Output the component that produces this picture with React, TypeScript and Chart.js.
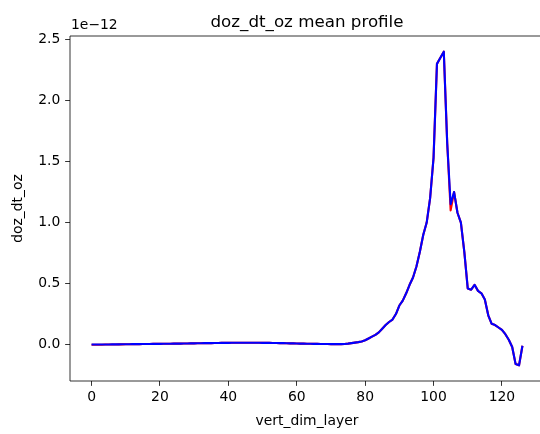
import { useEffect, useRef } from "react";
import { Chart, registerables } from "chart.js";

Chart.register(...registerables);

// vertical layer index 0..126
const layers: number[] = Array.from({ length: 127 }, (_, i) => i);

// values in units of 1e-12
const blueValues: number[] = [
  0.000, 0.000, 0.000, 0.001, 0.001, 0.001, 0.002, 0.002, 0.002, 0.003,
  0.003, 0.003, 0.004, 0.004, 0.004, 0.005, 0.005, 0.005, 0.006, 0.006,
  0.006, 0.007, 0.007, 0.007, 0.008, 0.008, 0.008, 0.009, 0.009, 0.010,
  0.010, 0.011, 0.011, 0.012, 0.012, 0.012, 0.013, 0.013, 0.014, 0.014,
  0.014, 0.015, 0.015, 0.015, 0.015, 0.015, 0.015, 0.015, 0.015, 0.015,
  0.014, 0.014, 0.014, 0.013, 0.013, 0.012, 0.012, 0.011, 0.010, 0.010,
  0.009, 0.008, 0.008, 0.007, 0.007, 0.006, 0.006, 0.005, 0.005, 0.005,
  0.004, 0.004, 0.004, 0.004, 0.005, 0.008, 0.012, 0.016, 0.020, 0.025,
  0.035, 0.050, 0.065, 0.080, 0.100, 0.130, 0.160, 0.185, 0.205, 0.250,
  0.320, 0.360, 0.420, 0.490, 0.550, 0.640, 0.760, 0.900, 1.000, 1.200,
  1.530, 2.300, 2.350, 2.400, 1.650, 1.150, 1.250, 1.080, 1.000, 0.760,
  0.460, 0.450, 0.490, 0.440, 0.420, 0.370, 0.240, 0.170, 0.160, 0.140,
  0.120, 0.085, 0.040, -0.020, -0.160, -0.170, -0.010,
];

const redValues: number[] = [
  -0.002, -0.002, -0.001, -0.001, 0.000, 0.000, 0.001, 0.001, 0.002, 0.002,
  0.003, 0.003, 0.004, 0.004, 0.004, 0.005, 0.005, 0.005, 0.006, 0.006,
  0.006, 0.007, 0.007, 0.007, 0.008, 0.008, 0.008, 0.009, 0.009, 0.010,
  0.010, 0.011, 0.011, 0.012, 0.012, 0.012, 0.013, 0.013, 0.014, 0.014,
  0.014, 0.015, 0.015, 0.015, 0.015, 0.015, 0.015, 0.015, 0.015, 0.015,
  0.014, 0.014, 0.014, 0.013, 0.013, 0.012, 0.012, 0.011, 0.010, 0.010,
  0.009, 0.008, 0.008, 0.007, 0.007, 0.006, 0.006, 0.005, 0.005, 0.005,
  0.004, 0.004, 0.004, 0.004, 0.005, 0.008, 0.012, 0.016, 0.020, 0.025,
  0.035, 0.050, 0.065, 0.080, 0.100, 0.130, 0.160, 0.185, 0.205, 0.250,
  0.320, 0.360, 0.420, 0.490, 0.550, 0.640, 0.760, 0.900, 1.000, 1.200,
  1.530, 2.300, 2.350, 2.400, 1.650, 1.100, 1.250, 1.080, 1.000, 0.760,
  0.460, 0.450, 0.490, 0.440, 0.420, 0.370, 0.240, 0.170, 0.160, 0.140,
  0.120, 0.085, 0.040, -0.020, -0.160, -0.170, -0.010,
];

const xTicks: number[] = [0, 20, 40, 60, 80, 100, 120];
const yTicks: number[] = [0.0, 0.5, 1.0, 1.5, 2.0, 2.5];

const titleText = "doz_dt_oz mean profile";
const xLabel = "vert_dim_layer";
const yLabel = "doz_dt_oz";
const offsetText = "1e\u221212";

const FONT = "'DejaVu Sans', sans-serif";
const TICK_PX = 4.86;

const decorPlugin = {
  id: "decor",
  afterDraw(chart: any) {
    const { ctx, chartArea } = chart;
    const { left, right, top, bottom } = chartArea;
    const edge = Math.max(right, chart.width) + 2;
    ctx.save();
    ctx.strokeStyle = "#000";
    ctx.lineWidth = 0.8;
    ctx.beginPath();
    ctx.moveTo(edge, top);
    ctx.lineTo(left, top);
    ctx.lineTo(left, bottom);
    ctx.lineTo(edge, bottom);
    ctx.stroke();

    ctx.fillStyle = "#000";
    ctx.font = `16.7px ${FONT}`;
    ctx.textAlign = "center";
    ctx.textBaseline = "alphabetic";
    ctx.fillText(titleText, (left + right) / 2, top - 9.5);

    ctx.font = `13.9px ${FONT}`;
    ctx.textAlign = "left";
    ctx.fillText(offsetText, left + 1, top - 7);
    ctx.restore();
  },
};

export default function App() {
  const canvasRef = useRef<HTMLCanvasElement | null>(null);

  useEffect(() => {
    const canvas = canvasRef.current;
    if (!canvas) return;
    const font = { family: FONT, size: 13.9 };
    const chart = new Chart(canvas, {
      type: "line",
      data: {
        datasets: [
          {
            label: "red",
            data: layers.map((x, i) => ({ x, y: redValues[i] })),
            borderColor: "#ff0000",
            borderWidth: 2.1,
            pointRadius: 0,
            fill: false,
            tension: 0,
            borderJoinStyle: "round",
            order: 2,
          },
          {
            label: "blue",
            data: layers.map((x, i) => ({ x, y: blueValues[i] })),
            borderColor: "#0000ff",
            borderWidth: 2.1,
            pointRadius: 0,
            fill: false,
            tension: 0,
            borderJoinStyle: "round",
            order: 1,
          },
        ],
      },
      options: {
        responsive: false,
        animation: false,
        devicePixelRatio: 1,
        layout: { padding: { top: 28, right: 4, left: 0, bottom: 0 } },
        plugins: {
          legend: { display: false },
          tooltip: { enabled: false },
          title: { display: false },
        },
        scales: {
          x: {
            type: "linear",
            min: -6.3,
            max: 132.3,
            afterBuildTicks: (s: any) => {
              s.ticks = xTicks.map((v) => ({ value: v }));
            },
            afterFit: (s: any) => {
              s.height = 53;
            },
            ticks: {
              font,
              color: "#000",
              padding: 3,
              maxRotation: 0,
              autoSkip: false,
              callback: (v: any) => String(v),
            },
            grid: {
              display: true,
              drawOnChartArea: false,
              drawTicks: true,
              tickLength: TICK_PX,
              tickWidth: 0.8,
              tickColor: "#000",
            },
            border: { display: false },
            title: {
              display: true,
              text: xLabel,
              font,
              color: "#000",
              padding: { top: 0, bottom: 4.5 },
            },
          },
          y: {
            type: "linear",
            min: -0.2985,
            max: 2.5285,
            afterBuildTicks: (s: any) => {
              s.ticks = yTicks.map((v) => ({ value: v }));
            },
            afterFit: (s: any) => {
              s.width = 62;
            },
            ticks: {
              font,
              color: "#000",
              padding: 4.86,
              autoSkip: false,
              callback: (v: any) => Number(v).toFixed(1),
            },
            grid: {
              display: true,
              drawOnChartArea: false,
              drawTicks: true,
              tickLength: TICK_PX,
              tickWidth: 0.8,
              tickColor: "#000",
            },
            border: { display: false },
            title: {
              display: true,
              text: yLabel,
              font,
              color: "#000",
              padding: { top: 1.7, bottom: 0 },
            },
          },
        },
      } as any,
      plugins: [decorPlugin],
    });
    return () => chart.destroy();
  }, []);

  return (
    <div
      style={{
        position: "fixed",
        left: 0,
        top: 0,
        width: 540,
        height: 434,
        overflow: "hidden",
        background: "#fff",
      }}
    >
      <canvas
        ref={canvasRef}
        width={540}
        height={426}
        style={{ position: "absolute", left: 8, top: 8, display: "block", width: 540, height: 426 }}
      />
    </div>
  );
}
